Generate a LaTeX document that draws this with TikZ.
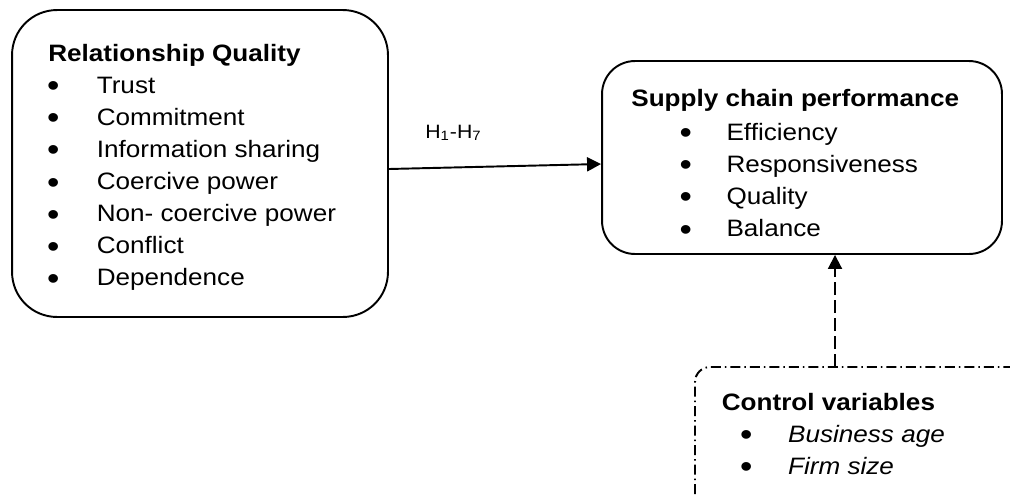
\documentclass[tikz,border=0pt]{standalone}
\usepackage{fontspec}
\setmainfont{Liberation Sans}
\usepackage{tikz}
\usetikzlibrary{positioning}
\usetikzlibrary{calc}
\usetikzlibrary{arrows.meta}

\newcommand{\blt}{\makebox[0pt]{\raisebox{-0.15em}{\scalebox{1.35}{\textbullet}}}}

\tikzset{
    rbox/.style={draw, line width=1.1pt, rounded corners=#1, inner sep=0pt},
    txt/.style={inner sep=0pt, anchor=base west, xscale=1.1, font=\fontsize{13.5}{18.3}\selectfont},
    head/.style={txt, font=\fontsize{13.5}{18.3}\selectfont\bfseries},
    arr/.style={-{Triangle[length=0.28cm,width=0.28cm]}, line width=1.1pt},
    dasharr/.style={arr, dash pattern=on 0.26cm off 0.1cm},
    cvline/.style={line width=1.1pt, dash pattern=on 0.2cm off 0.08cm on 0.03cm off 0.08cm},
}

\begin{document}
\begin{tikzpicture}[x=0.02cm, y=-0.02cm]
    \useasboundingbox (0,0) rectangle (1010,494);

    % relationship quality
    \node[rbox=0.9cm, minimum width=7.52cm, minimum height=6.14cm] (rq) at (200,163.5) {};
    \node[head] (rqhead) at (48,61) {Relationship Quality};
    \node[txt] (rqlist) at (53,93) {\begin{tabular}[t]{@{}c@{\hspace{0.79cm}}l@{}}
        \blt & Trust\\
        \blt & Commitment\\
        \blt & Information sharing\\
        \blt & Coercive power\\
        \blt & Non- coercive power\\
        \blt & Conflict\\
        \blt & Dependence
    \end{tabular}};

    % supply chain performance
    \node[rbox=0.66cm, minimum width=8cm, minimum height=3.86cm] (scp) at (802,157.5) {};
    \node[head] (scphead) at (631,106) {Supply chain performance};
    \node[txt] (scplist) at (685.5,140) {\begin{tabular}[t]{@{}c@{\hspace{0.74cm}}l@{}}
        \blt & Efficiency\\
        \blt & Responsiveness\\
        \blt & Quality\\
        \blt & Balance
    \end{tabular}};

    % hypotheses
    \draw[arr] ($(rq.east)+(0,5.5)$) -- ($(scp.west)+(0,6.5)$);
    \node[txt, font=\fontsize{11}{12}\selectfont] (hyp) at (425,138) {H\textsubscript{1}-H\textsubscript{7}};

    % control variables
    \draw[cvline, rounded corners=0.3cm] (695,494) -- (695,367) -- (1010,367);
    \coordinate (cv) at (835,367);
    \node[head] (cvhead) at (721.5,410) {Control variables};
    \node[txt] (cvlist) at (746,442) {\begin{tabular}[t]{@{}c@{\hspace{0.76cm}}l@{}}
        \blt & \textit{Business age}\\
        \blt & \textit{Firm size}
    \end{tabular}};
    \draw[dasharr] (cv) -- (cv |- scp.south);
\end{tikzpicture}
\end{document}
